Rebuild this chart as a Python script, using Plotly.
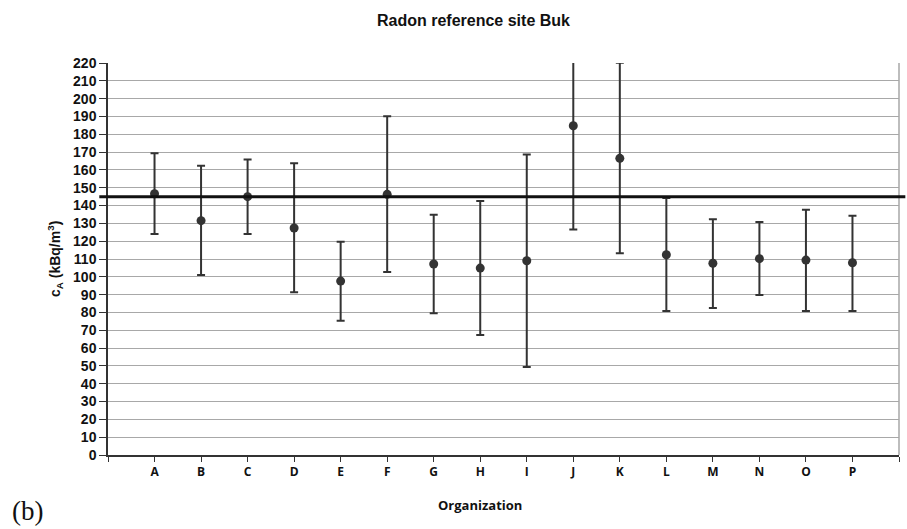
import plotly.graph_objects as go

organizations = ["A", "B", "C", "D", "E", "F", "G", "H", "I", "J", "K", "L", "M", "N", "O", "P"]
values = [146.6, 131.5, 145.0, 127.4, 97.6, 146.3, 107.2, 104.9, 109.0, 184.8, 166.5, 112.4, 107.6, 110.2, 109.4, 107.9]
upper = [169.3, 162.3, 165.9, 163.7, 119.7, 190.1, 134.9, 142.5, 168.7, 245.0, 220.1, 144.2, 132.3, 130.8, 137.7, 134.3]
lower = [124.0, 101.0, 124.0, 91.3, 75.4, 102.7, 79.5, 67.3, 49.4, 126.6, 113.2, 80.8, 82.5, 89.8, 80.8, 80.8]
reference_value = 145.0
y_ticks = list(range(0, 221, 10))

x_idx = list(range(len(organizations)))
err_plus = [u - v for u, v in zip(upper, values)]
err_minus = [v - l for v, l in zip(values, lower)]

W, H = 907, 529
ml, mr, mt, mb = 108, 8, 63, 74
SANS = "Liberation Sans, Arial, sans-serif"

fig = go.Figure()
fig.add_trace(go.Scatter(
    x=x_idx, y=values, mode="markers",
    marker=dict(color="#333333", size=9),
    error_y=dict(type="data", symmetric=False, array=err_plus, arrayminus=err_minus,
                 color="#333333", thickness=2, width=4),
    showlegend=False,
))

fig.add_shape(type="line", xref="paper", yref="y", x0=-0.011, x1=1.008,
              y0=reference_value, y1=reference_value,
              line=dict(color="#111111", width=3), layer="above")
fig.add_shape(type="line", xref="paper", yref="paper", x0=1, x1=1, y0=0, y1=1,
              line=dict(color="#bdbdbd", width=2), layer="below")

fig.update_layout(
    width=W, height=H,
    margin=dict(l=ml, r=mr, t=mt, b=mb),
    paper_bgcolor="white", plot_bgcolor="white",
    font=dict(family=SANS, color="#111111"),
    xaxis=dict(
        range=[-1, len(organizations)],
        tickvals=[-1] + x_idx + [len(organizations)],
        ticktext=[""] + organizations + [""],
        ticks="outside", ticklen=5, tickcolor="#333333", tickwidth=1,
        showline=True, linecolor="#333333", linewidth=1.5,
        showgrid=False, zeroline=False,
        tickfont=dict(family="Open Sans, sans-serif", size=12, color="#111111", weight="bold"),
    ),
    yaxis=dict(
        range=[0, 220],
        tickvals=y_ticks,
        ticks="outside", ticklen=7, tickcolor="#333333", tickwidth=1,
        showline=True, linecolor="#333333", linewidth=1.5,
        showgrid=True, gridcolor="#a8a8a8", gridwidth=1,
        zeroline=False,
        tickfont=dict(family=SANS, size=14, color="#111111", weight="bold"),
    ),
    annotations=[
        dict(text="<b>Radon reference site Buk</b>", xref="paper", yref="paper",
             x=(473 - ml) / (W - ml - mr), y=1 + (mt - 20.5) / (H - mt - mb),
             showarrow=False, xanchor="center", yanchor="middle",
             font=dict(size=16, family=SANS, color="#111111")),
        dict(text="<b>c<sub>A</sub> (kBq/m<sup>3</sup>)</b>", xref="paper", yref="paper",
             x=(55 - ml) / (W - ml - mr), y=0.5, textangle=-90,
             showarrow=False, xanchor="center", yanchor="middle",
             font=dict(size=14, family=SANS, color="#111111")),
        dict(text="<b>Organization</b>", xref="paper", yref="paper",
             x=(480 - ml) / (W - ml - mr), y=-(505 - (H - mb)) / (H - mt - mb),
             showarrow=False, xanchor="center", yanchor="middle",
             font=dict(size=13, family="Open Sans, sans-serif", color="#111111")),
        dict(text="(b)", xref="paper", yref="paper",
             x=(10 - ml) / (W - ml - mr), y=-(511 - (H - mb)) / (H - mt - mb),
             showarrow=False, xanchor="left", yanchor="middle",
             font=dict(size=27, family="Liberation Serif, Times New Roman, serif", color="#111111")),
    ],
)

fig.write_html("out.html")
